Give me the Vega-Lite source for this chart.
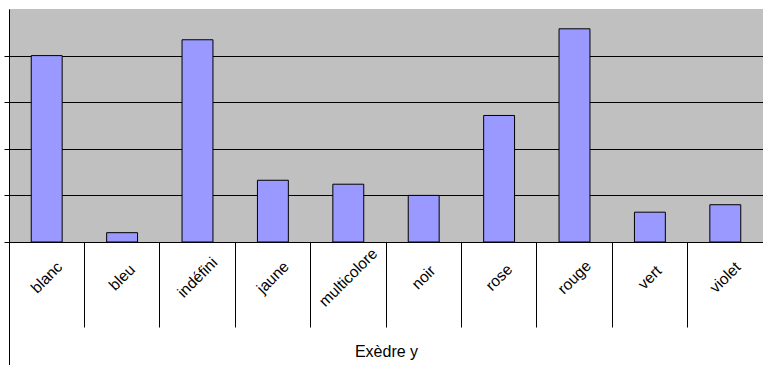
{
  "$schema": "https://vega.github.io/schema/vega-lite/v6.json",
  "width": 754,
  "height": 233,
  "autosize": {"type": "none"},
  "padding": {"left": 9, "top": 9, "right": 0, "bottom": 123},
  "background": "white",
  "config": {"view": {"fill": "#C0C0C0", "stroke": null}, "font": "Liberation Sans"},
  "data": {"values": [
    {"couleur": "blanc", "n": 80},
    {"couleur": "bleu", "n": 4},
    {"couleur": "indéfini", "n": 86.8},
    {"couleur": "jaune", "n": 26.5},
    {"couleur": "multicolore", "n": 24.8},
    {"couleur": "noir", "n": 20},
    {"couleur": "rose", "n": 54.3},
    {"couleur": "rouge", "n": 91.5},
    {"couleur": "vert", "n": 12.8},
    {"couleur": "violet", "n": 16}
  ]},
  "layer": [
    {
      "mark": {"type": "bar", "fill": "#9999FF", "stroke": "black", "strokeWidth": 1, "width": {"band": 0.41}},
      "encoding": {
        "x": {"field": "couleur", "type": "nominal", "sort": null,
          "scale": {"paddingInner": 0, "paddingOuter": 0},
          "axis": {"orient": "bottom", "title": "Exèdre y", "labelAngle": -45, "labelAlign": "center", "labelBaseline": "middle",
            "labelPadding": 35, "ticks": false, "domain": true, "domainColor": "black", "labelColor": "black",
            "labelFontSize": 15.5, "titleFontSize": 16, "titleFontWeight": "normal", "titleColor": "black",
            "titleY": 109, "titleBaseline": "middle", "grid": false, "labelOverlap": false}},
        "y": {"field": "n", "type": "quantitative", "scale": {"domain": [0, 100], "nice": false},
          "axis": {"title": null, "labels": false, "values": [0, 20, 40, 60, 80], "grid": true, "gridColor": "black",
            "gridOpacity": 1, "tickColor": "black", "tickSize": 5, "domainColor": "black"}}
      }
    },
    {
      "mark": {"type": "bar", "opacity": 0},
      "encoding": {
        "x": {"field": "couleur", "type": "nominal", "sort": null,
          "axis": {"orient": "bottom", "bandPosition": 0, "tickSize": 85, "tickColor": "black", "labels": false,
            "domain": false, "title": null, "grid": false}},
        "y": {"field": "n", "type": "quantitative"}
      }
    },
    {
      "mark": {"type": "bar", "opacity": 0},
      "encoding": {
        "x": {"field": "couleur", "type": "nominal", "sort": null,
          "axis": {"orient": "bottom", "bandPosition": 0, "values": ["blanc"], "tickSize": 123, "tickColor": "black", "labels": false,
            "domain": false, "title": null, "grid": false}},
        "y": {"field": "n", "type": "quantitative"}
      }
    }
  ],
  "resolve": {"axis": {"x": "independent"}}
}
